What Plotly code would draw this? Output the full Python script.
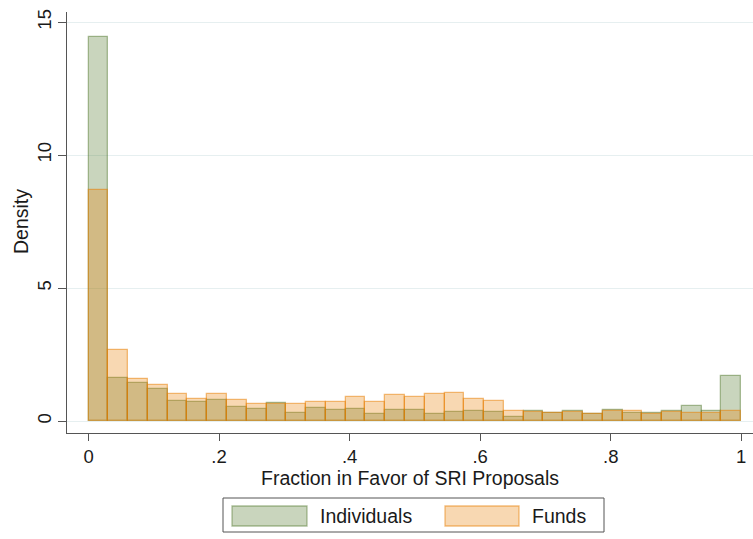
import plotly.graph_objects as go

# Histogram bins: 33 equal-width bins over [0, 1]
bin_start = 0.0
bin_width = 1.0 / 33
n_bins = 33

# Density per bin
individuals = [14.45, 1.63, 1.42, 1.21, 0.74, 0.70, 0.79, 0.51, 0.45, 0.67,
               0.29, 0.48, 0.42, 0.46, 0.27, 0.41, 0.42, 0.26, 0.34, 0.38,
               0.33, 0.16, 0.37, 0.29, 0.39, 0.25, 0.43, 0.32, 0.29, 0.36,
               0.56, 0.39, 1.69]
funds = [8.70, 2.67, 1.57, 1.35, 1.01, 0.84, 1.00, 0.80, 0.64, 0.65,
         0.63, 0.70, 0.71, 0.91, 0.73, 0.99, 0.90, 1.00, 1.04, 0.84,
         0.74, 0.38, 0.35, 0.29, 0.34, 0.25, 0.39, 0.37, 0.26, 0.33,
         0.31, 0.31, 0.38]

x_ticks = [0, 0.2, 0.4, 0.6, 0.8, 1]
x_ticklabels = ["0", ".2", ".4", ".6", ".8", "1"]
y_ticks = [0, 5, 10, 15]

series_names = ["Individuals", "Funds"]

centers = [bin_start + bin_width * (i + 0.5) for i in range(n_bins)]

green_fill = "rgba(75,115,38,0.30)"
green_line = "rgba(75,115,38,0.45)"
orange_fill = "rgba(232,125,0,0.30)"
orange_line = "rgba(232,125,0,0.50)"

FONT = "Liberation Sans, Arial, Helvetica, sans-serif"
TITLE_SIZE = 19.5
W, H = 753, 539
ML, MR, MT, MB = 67, 0, 12, 106

fig = go.Figure()
fig.add_trace(go.Bar(x=centers, y=individuals, width=bin_width,
                     name=series_names[0],
                     marker=dict(color=green_fill, line=dict(color=green_line, width=1.3))))
fig.add_trace(go.Bar(x=centers, y=funds, width=bin_width,
                     name=series_names[1],
                     marker=dict(color=orange_fill, line=dict(color=orange_line, width=1.3))))


def px_x(p):
    return (p - ML) / (W - ML - MR)


def px_y(p):
    return (H - MB - p) / (H - MT - MB)


shapes = [
    # legend frame
    dict(type="rect", xref="paper", yref="paper",
         x0=px_x(223), x1=px_x(604), y0=px_y(532), y1=px_y(498),
         line=dict(color="#555555", width=1), fillcolor="white"),
    dict(type="rect", xref="paper", yref="paper",
         x0=px_x(232), x1=px_x(307), y0=px_y(526), y1=px_y(506),
         line=dict(color=green_line, width=1.3), fillcolor=green_fill),
    dict(type="rect", xref="paper", yref="paper",
         x0=px_x(445), x1=px_x(519), y0=px_y(526), y1=px_y(506),
         line=dict(color=orange_line, width=1.3), fillcolor=orange_fill),
]
annotations = [
    dict(text=series_names[0], xref="paper", yref="paper", x=px_x(318), y=px_y(516),
         xanchor="left", yanchor="middle", showarrow=False,
         font=dict(family=FONT, size=TITLE_SIZE, color="#1a1a1a")),
    dict(text=series_names[1], xref="paper", yref="paper", x=px_x(530), y=px_y(516),
         xanchor="left", yanchor="middle", showarrow=False,
         font=dict(family=FONT, size=TITLE_SIZE, color="#1a1a1a")),
    dict(text="Fraction in Favor of SRI Proposals", xref="paper", yref="paper",
         x=px_x(410), y=px_y(478), xanchor="center", yanchor="middle", showarrow=False,
         font=dict(family=FONT, size=TITLE_SIZE, color="#1a1a1a")),
    dict(text="Density", xref="paper", yref="paper", x=px_x(21), y=px_y(222),
         xanchor="center", yanchor="middle", showarrow=False, textangle=-90,
         font=dict(family=FONT, size=TITLE_SIZE, color="#1a1a1a")),
]

fig.update_layout(
    width=W, height=H,
    margin=dict(l=ML, r=MR, t=MT, b=MB),
    paper_bgcolor="white", plot_bgcolor="white",
    barmode="overlay", bargap=0,
    showlegend=False,
    shapes=shapes, annotations=annotations,
    font=dict(family=FONT, size=18, color="#1a1a1a"),
)
fig.update_xaxes(
    range=[-0.033, 1.018], tickvals=x_ticks, ticktext=x_ticklabels,
    showgrid=False, zeroline=False,
    showline=True, linecolor="#555555", linewidth=1,
    ticks="outside", ticklen=7, tickcolor="#555555",
    tickfont=dict(family=FONT, size=18.5, color="#1a1a1a"),
)
fig.update_yaxes(
    range=[-0.45, 15.38], tickvals=y_ticks,
    showgrid=True, gridcolor="#e6eff0", gridwidth=1, zeroline=False,
    showline=True, linecolor="#555555", linewidth=1,
    ticks="outside", ticklen=8, tickcolor="#555555", tickangle=-90,
    tickfont=dict(family=FONT, size=18.5, color="#1a1a1a"),
)

fig.write_html("out.html")
